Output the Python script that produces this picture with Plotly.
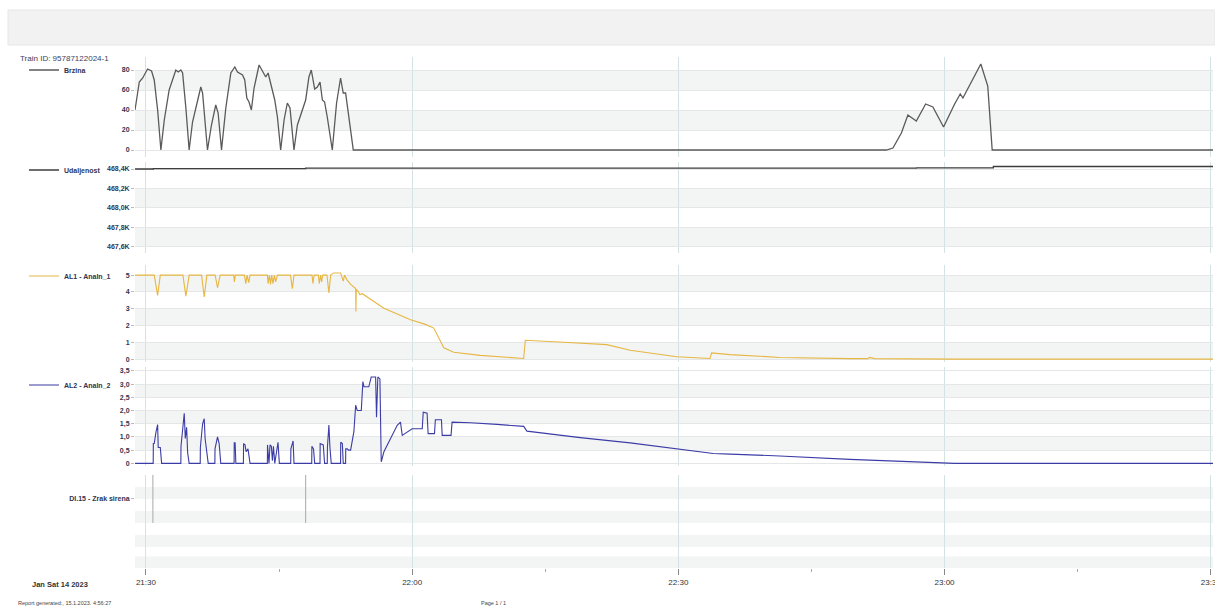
import pandas as pd
import plotly.graph_objects as go

DAY = "2023-01-14 "

# ---- Brzina (speed, km/h) ----
speed_t = ["21:28:46", "21:29:15", "21:29:38", "21:30:11", "21:30:38", "21:30:56", "21:31:19", "21:31:41",
           "21:32:04", "21:32:37", "21:33:22", "21:33:38", "21:33:56", "21:34:08", "21:34:30", "21:34:52",
           "21:35:15", "21:35:44", "21:36:11", "21:36:23", "21:36:56", "21:37:23", "21:37:52", "21:38:08",
           "21:38:31", "21:39:00", "21:39:34", "21:40:01", "21:40:19", "21:40:53", "21:41:08", "21:41:22",
           "21:41:37", "21:41:53", "21:42:11", "21:42:45", "21:43:08", "21:43:30", "21:43:46", "21:44:04",
           "21:44:31", "21:44:49", "21:45:11", "21:45:34", "21:45:56", "21:46:14", "21:46:41", "21:47:04",
           "21:47:38", "21:48:00", "21:48:22", "21:48:38", "21:49:01", "21:49:19", "21:49:37", "21:49:53",
           "21:50:08", "21:50:26", "21:51:00", "21:51:29", "21:51:56", "21:52:14", "21:52:30", "21:53:04",
           "21:53:22", "22:53:26", "22:54:11", "22:55:08", "22:55:52", "22:56:49", "22:57:52", "22:58:41",
           "22:59:53", "23:01:08", "23:01:46", "23:02:04", "23:02:38", "23:03:23", "23:04:05", "23:04:52",
           "23:05:22", "23:30:15"]
speed_v = [40, 68, 72, 81, 79, 70, 40, 0,
           30, 60, 80, 78, 80, 77, 42, 0,
           28, 47, 63, 57, 0, 25, 45, 37,
           0, 42, 77, 83, 78, 75, 70, 52,
           48, 40, 62, 85, 79, 73, 77, 67,
           50, 33, 0, 30, 47, 42, 0, 25,
           40, 50, 73, 80, 61, 63, 68, 50,
           48, 33, 0, 47, 72, 57, 57, 20,
           0, 0, 2, 17, 35, 29, 46, 43,
           23, 46, 56, 52, 62, 75, 86, 64,
           0, 0]

# ---- Udaljenost (distance, m) ----
dist_t = ["21:28:46", "21:30:45", "21:30:50", "21:48:00", "22:56:50", "23:05:30", "23:30:15"]
dist_v = [468400, 468400, 468405, 468410, 468412, 468426, 468426]

# ---- AL1 - Analn_1 ----
al1_t = ["21:28:46", "21:30:56", "21:31:19", "21:31:37", "21:34:10", "21:34:30", "21:34:40", "21:34:52",
         "21:36:16", "21:36:34", "21:36:52", "21:37:48", "21:38:04", "21:38:22", "21:39:54", "21:39:58",
         "21:40:04", "21:41:06", "21:41:15", "21:41:24", "21:41:35", "21:41:44", "21:43:41", "21:43:46",
         "21:43:54", "21:44:02", "21:44:10", "21:44:19", "21:44:28", "21:44:37", "21:44:49", "21:46:17",
         "21:46:30", "21:46:41", "21:48:43", "21:48:49", "21:48:57", "21:49:26", "21:49:32", "21:49:41",
         "21:49:48", "21:49:55", "21:50:24", "21:50:37", "21:50:49", "21:51:09", "21:51:56", "21:52:14",
         "21:52:23", "21:52:41", "21:53:04", "21:53:38", "21:53:40", "21:53:42", "21:53:58", "21:54:05",
         "21:54:23", "21:56:49", "21:59:49", "22:01:30", "22:02:26", "22:03:34", "22:04:41", "22:07:41",
         "22:12:34", "22:12:45", "22:17:04", "22:21:56", "22:24:34", "22:29:49", "22:33:34", "22:33:45",
         "22:35:49", "22:41:26", "22:49:19", "22:51:20", "22:51:34", "22:52:07", "23:00:34", "23:30:15"]
al1_v = [5.0, 5.0, 3.8, 5.0, 5.0, 3.75, 4.3, 5.0,
         5.0, 3.7, 5.0, 5.0, 4.25, 5.0, 5.0, 4.6,
         5.0, 5.0, 4.5, 5.0, 4.55, 5.0, 5.0, 4.5,
         5.0, 4.45, 5.0, 4.5, 5.0, 4.6, 5.0, 5.0,
         4.2, 5.0, 5.0, 4.5, 5.0, 5.0, 4.5, 5.0,
         4.6, 5.0, 5.0, 3.95, 5.0, 5.13, 5.13, 4.65,
         5.0, 4.7, 4.45, 4.2, 2.85, 4.15, 4.0, 3.85,
         3.9, 3.04, 2.35, 2.08, 1.86, 0.69, 0.43, 0.24,
         0.06, 1.14, 1.02, 0.88, 0.55, 0.16, 0.06, 0.39,
         0.29, 0.12, 0.05, 0.05, 0.12, 0.05, 0.02, 0.02]

# ---- AL2 - Analn_2 ----
al2_t = ["21:28:46", "21:30:49", "21:30:50", "21:30:56", "21:31:08", "21:31:19", "21:31:23", "21:31:37",
         "21:31:46", "21:33:56", "21:33:57", "21:34:19", "21:34:26", "21:34:35", "21:34:42", "21:34:52",
         "21:36:07", "21:36:08", "21:36:23", "21:36:34", "21:36:40", "21:36:52", "21:37:01", "21:37:46",
         "21:37:47", "21:38:04", "21:38:15", "21:38:26", "21:39:56", "21:39:57", "21:40:03", "21:40:08",
         "21:40:59", "21:41:00", "21:41:10", "21:41:17", "21:41:30", "21:41:44", "21:43:41", "21:43:42",
         "21:43:52", "21:43:59", "21:44:08", "21:44:15", "21:44:22", "21:44:31", "21:44:44", "21:44:53",
         "21:45:02", "21:46:19", "21:46:20", "21:46:35", "21:46:41", "21:48:41", "21:48:42", "21:48:53",
         "21:49:01", "21:49:37", "21:49:38", "21:49:59", "21:50:08", "21:50:26", "21:50:27", "21:50:37",
         "21:50:44", "21:50:53", "21:51:56", "21:51:57", "21:52:08", "21:52:14", "21:52:30", "21:52:31",
         "21:52:41", "21:52:50", "21:53:04", "21:53:26", "21:53:38", "21:53:49", "21:54:16", "21:54:27",
         "21:54:34", "21:55:07", "21:55:23", "21:55:53", "21:55:59", "21:56:08", "21:56:22", "21:56:31",
         "21:56:49", "21:57:45", "21:58:19", "21:58:41", "21:58:53", "22:00:00", "22:01:08", "22:01:15",
         "22:01:41", "22:01:48", "22:02:31", "22:02:37", "22:03:18", "22:03:23", "22:04:23", "22:04:30",
         "22:06:34", "22:09:34", "22:12:34", "22:12:56", "22:18:56", "22:24:34", "22:29:49", "22:33:56",
         "22:35:49", "22:41:26", "22:49:19", "22:54:56", "22:59:26", "23:01:08", "23:30:15"]
al2_v = [0, 0, 0.75, 0.75, 1.19, 1.47, 0.6, 0.6,
         0, 0, 0.65, 1.9, 0.94, 1.37, 0.4, 0,
         0, 0.6, 1.5, 1.69, 0.94, 0.5, 0, 0,
         0.55, 1.0, 0.75, 0, 0, 0.78, 0.78, 0,
         0, 0.75, 0.7, 0.44, 0.55, 0, 0, 0.7,
         0, 0.7, 0.65, 0.1, 0.65, 0, 0.55, 0.8,
         0, 0, 0.55, 0.85, 0, 0, 0.65, 0.55,
         0, 0, 0.75, 0.7, 0, 0, 0.6, 1.45,
         0.6, 0, 0, 0.8, 0.75, 0, 0, 0.55,
         0.55, 0.5, 0.5, 1.2, 2.2, 2.0, 2.0, 3.1,
         2.9, 2.9, 3.27, 3.27, 1.75, 3.27, 3.2, 0.06,
         0.44, 1.06, 1.44, 1.56, 1.06, 1.31, 1.31, 1.94,
         1.9, 1.125, 1.125, 1.65, 1.65, 1.06, 1.06, 1.56,
         1.54, 1.475, 1.4, 1.22, 0.975, 0.775, 0.56, 0.375,
         0.35, 0.28, 0.15, 0.08, 0.03, 0, 0]

# ---- DI.15 - Zrak sirena (digital pulses) ----
di_t = ["21:30:47", "21:48:00"]
di_low, di_high = 0, 1

dist_tickvals = [467600, 467800, 468000, 468200, 468400]
dist_ticktext = ["467,6K", "467,8K", "468,0K", "468,2K", "468,4K"]
al2_tickvals = [0, 0.5, 1.0, 1.5, 2.0, 2.5, 3.0, 3.5]
al2_ticktext = ["0", "0,5", "1,0", "1,5", "2,0", "2,5", "3,0", "3,5"]


def ts(lst):
    return pd.to_datetime([DAY + s for s in lst])


W, H = 1215, 611
FONT = "Liberation Sans"
TICK_COL = "#2f3552"
GRID_H = "#e4e6e8"
GRID_V = "#d3e2e2"
BAND = "#f3f4f4"


def py(px):
    return 1 - px / H


fig = go.Figure()

fig.add_trace(go.Scatter(x=ts(speed_t), y=speed_v, mode="lines", name="Brzina",
                         line=dict(color="#5a5a5a", width=1.3), xaxis="x", yaxis="y",
                         legend="legend"))
fig.add_trace(go.Scatter(x=ts(dist_t), y=dist_v, mode="lines", name="Udaljenost",
                         line=dict(color="#3d3d3d", width=1.3, shape="hv"), xaxis="x2", yaxis="y2",
                         legend="legend2"))
fig.add_trace(go.Scatter(x=ts(al1_t), y=al1_v, mode="lines", name="AL1 - Analn_1",
                         line=dict(color="#e6b743", width=1.1), xaxis="x3", yaxis="y3",
                         legend="legend3"))
fig.add_trace(go.Scatter(x=ts(al2_t), y=al2_v, mode="lines", name="AL2 - Analn_2",
                         line=dict(color="#3c3ca6", width=1.1), xaxis="x4", yaxis="y4",
                         legend="legend4"))

di_x, di_y = [], []
for t in ts(di_t):
    di_x += [t, t, None]
    di_y += [di_low, di_high, None]
fig.add_trace(go.Scatter(x=di_x, y=di_y, mode="lines", name="DI.15 - Zrak sirena",
                         line=dict(color="#a8a8a8", width=1), xaxis="x5", yaxis="y5",
                         showlegend=False))

x_dom = [135 / W, 1213 / W]
x_range = [DAY + "21:28:46", DAY + "23:30:15"]

panels = [
    # (y-axis name, top px, bottom px, range, tickvals, ticktext, bands)
    ("y", 57, 157, [-7, 93], [0, 20, 40, 60, 80], ["0", "20", "40", "60", "80"],
     [(20, 40), (60, 80)]),
    ("y2", 162, 253, [467538, 468472], dist_tickvals, dist_ticktext,
     [(467600, 467800), (468000, 468200)]),
    ("y3", 265, 362, [-0.15, 5.6], [0, 1, 2, 3, 4, 5], ["0", "1", "2", "3", "4", "5"],
     [(0, 1), (2, 3), (4, 5)]),
    ("y4", 367, 466, [-0.1, 3.65], al2_tickvals, al2_ticktext,
     [(0.5, 1.0), (1.5, 2.0), (2.5, 3.0)]),
    ("y5", 475, 568, [-0.94, 1.0], [0.5], ["DI.15 - Zrak sirena"],
     [(0.5, 0.75), (0.0, 0.25), (-0.5, -0.25), (-0.94, -0.7)]),
]

shapes = []
layout = {}
for i, (yname, top, bot, rng, tv, tt, bands) in enumerate(panels):
    n = "" if i == 0 else str(i + 1)
    last = i == len(panels) - 1
    layout["xaxis" + n] = dict(
        domain=x_dom, range=x_range, type="date", anchor=yname,
        matches=None if i == 0 else "x",
        showgrid=True, gridcolor=GRID_V, gridwidth=1,
        tick0=DAY + "21:30", dtick=30 * 60 * 1000,
        showticklabels=last, tickformat="%H:%M", ticklabeloverflow="allow",
        ticks="outside" if last else "", ticklen=6, tickcolor="#888888",
        minor=dict(dtick=15 * 60 * 1000, ticks="outside" if last else "", ticklen=3,
                   tickcolor="#aaaaaa", showgrid=False),
        tickfont=dict(family=FONT, size=8, color="#333333"),
        showline=False, zeroline=False, automargin=False,
    )
    layout["yaxis" + n] = dict(
        domain=[py(bot), py(top)], range=rng, anchor="x" + n,
        tickvals=tv, ticktext=tt,
        showgrid=i != 4, gridcolor=GRID_H, gridwidth=1, zeroline=False,
        ticks="outside", ticklen=3, tickcolor="#bbbbbb",
        tickfont=dict(family=FONT, size=7, color=TICK_COL, weight="bold"),
        showline=False, automargin=False,
    )
    for lo, hi in bands:
        shapes.append(dict(type="rect", xref="x" + n + " domain", yref=yname,
                           x0=0, x1=1, y0=lo, y1=hi, fillcolor=BAND, line_width=0,
                           layer="below"))

# header strip
shapes.append(dict(type="rect", xref="paper", yref="paper", x0=8 / W, x1=1,
                   y0=py(45), y1=py(10), fillcolor="#f2f2f2", line=dict(color="#e6e6e6", width=1),
                   layer="below"))

leg_font = dict(family=FONT, size=7, color=TICK_COL, weight="bold")
common_leg = dict(x=24 / W, xanchor="left", yanchor="middle", bgcolor="rgba(0,0,0,0)",
                  font=leg_font, itemwidth=30, tracegroupgap=0)

annotations = [
    dict(text="Train ID: 95787122024-1", x=18 / W, y=py(58), xref="paper", yref="paper",
         xanchor="left", yanchor="middle", showarrow=False,
         font=dict(family=FONT, size=8, color="#3a4060")),
    dict(text="Jan Sat 14 2023", x=30 / W, y=py(584), xref="paper", yref="paper",
         xanchor="left", yanchor="middle", showarrow=False,
         font=dict(family=FONT, size=7.5, color="#333333", weight="bold")),
    dict(text="Report generated:, 15.1.2023. 4:56:27", x=16 / W, y=py(603), xref="paper",
         yref="paper", xanchor="left", yanchor="middle", showarrow=False,
         font=dict(family=FONT, size=5.5, color="#444444")),
    dict(text="Page 1 / 1", x=479 / W, y=py(603), xref="paper", yref="paper",
         xanchor="left", yanchor="middle", showarrow=False,
         font=dict(family=FONT, size=5.5, color="#444444")),
]

fig.update_layout(
    width=W, height=H,
    margin=dict(l=0, r=0, t=0, b=0),
    paper_bgcolor="white", plot_bgcolor="white",
    font=dict(family=FONT, size=8, color="#333333"),
    shapes=shapes, annotations=annotations,
    legend=dict(y=py(70), **common_leg),
    legend2=dict(y=py(170), **common_leg),
    legend3=dict(y=py(276), **common_leg),
    legend4=dict(y=py(385), **common_leg),
    **layout,
)

fig.write_html("out.html")
